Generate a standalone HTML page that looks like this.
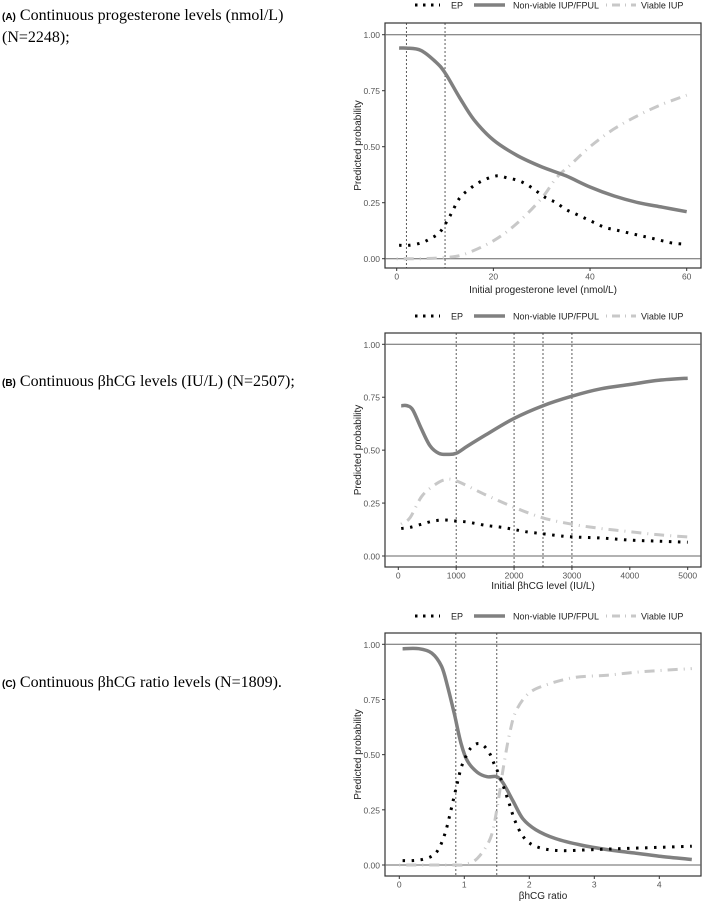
<!DOCTYPE html>
<html><head><meta charset="utf-8"><style>
body{margin:0;background:#fff;width:709px;height:903px;overflow:hidden;position:relative;font-family:"Liberation Sans",sans-serif}
.cap{position:absolute;left:2px;font-family:"Liberation Serif",serif;font-size:16px;color:#000;line-height:20px}
.cap b{font-family:"Liberation Sans",sans-serif;font-size:10px}
svg{position:absolute;left:0;top:0}
</style></head><body>
<div class="cap" style="top:6px"><b>(A)</b> Continuous progesterone levels (nmol/L)<br>(N=2248);</div>
<div class="cap" style="top:372px"><b>(B)</b> Continuous βhCG levels (IU/L) (N=2507);</div>
<div class="cap" style="top:673px"><b>(C)</b> Continuous βhCG ratio levels (N=1809).</div>
<svg id="chart" width="709" height="903"></svg>
<script>
// Panel A data
const aNvX=[0.5,2,5,8,10,13,16,20,25,30,35,40,45,50,55,60];
const aNvY=[0.94,0.94,0.93,0.88,0.83,0.72,0.62,0.53,0.46,0.41,0.37,0.32,0.28,0.25,0.23,0.21];
const aEpX=[0.5,2.5,5,7,9,11,13,15,17,19,21,23,25,27,29,31,33,35,37,39,41,43,45,47,49,51,53,55,57,59.5];
const aEpY=[0.06,0.06,0.07,0.09,0.12,0.19,0.27,0.31,0.34,0.36,0.37,0.36,0.35,0.33,0.30,0.27,0.25,0.22,0.20,0.18,0.16,0.14,0.13,0.12,0.11,0.10,0.09,0.08,0.07,0.065];
const aViX=[0,5,10,14,20,25,30,33,36,40,45,50,55,60];
const aViY=[0,0,0.005,0.02,0.08,0.16,0.27,0.36,0.42,0.50,0.58,0.64,0.69,0.73];
const aVlines=[2,10];
const aTicks=[0,20,40,60];
// Panel B data
const bNvX=[50,150,250,400,550,700,850,1000,1200,1500,2000,2500,3000,3500,4000,4500,5000];
const bNvY=[0.71,0.71,0.69,0.60,0.52,0.485,0.48,0.485,0.52,0.57,0.65,0.71,0.755,0.79,0.81,0.83,0.84];
const bViX=[50,200,400,600,800,1000,1500,2000,2500,3000,3500,4000,4500,5000];
const bViY=[0.15,0.18,0.28,0.33,0.36,0.355,0.29,0.23,0.18,0.15,0.13,0.115,0.10,0.09];
const bEpX=[50,200,400,600,800,1000,1200,1500,1800,2000,2200,2500,2800,3000,3500,4000,4500,5000];
const bEpY=[0.13,0.135,0.15,0.165,0.17,0.165,0.16,0.145,0.135,0.125,0.115,0.105,0.095,0.09,0.085,0.075,0.07,0.065];
const bVlines=[1000,2000,2500,3000];
const bTicks=[0,1000,2000,3000,4000,5000];
// Panel C data
const cNvX=[0.05,0.3,0.5,0.65,0.75,0.85,0.95,1.05,1.2,1.35,1.5,1.6,1.75,1.9,2.1,2.4,2.8,3.2,3.6,4,4.5];
const cNvY=[0.98,0.98,0.96,0.9,0.80,0.68,0.55,0.47,0.42,0.40,0.40,0.37,0.29,0.21,0.16,0.12,0.09,0.07,0.055,0.04,0.025];
const cEpX=[0.05,0.2,0.35,0.5,0.6,0.7,0.78,0.85,0.9,0.95,1.02,1.1,1.2,1.3,1.4,1.47,1.55,1.62,1.7,1.78,1.88,2,2.2,2.5,3,3.5,4,4.5];
const cEpY=[0.02,0.02,0.025,0.04,0.07,0.14,0.23,0.32,0.38,0.44,0.49,0.53,0.55,0.54,0.50,0.45,0.40,0.34,0.27,0.20,0.14,0.10,0.075,0.065,0.07,0.075,0.08,0.085];
const cViX=[0,0.8,1,1.2,1.4,1.5,1.6,1.7,1.8,2,2.3,2.7,3.2,3.7,4.5];
const cViY=[0,0,0.002,0.03,0.12,0.25,0.44,0.60,0.70,0.78,0.82,0.85,0.86,0.875,0.89];
const cVlines=[0.87,1.5];
const cTicks=[0,1,2,3,4];
const yTicks=[0,0.25,0.5,0.75,1];
const yLabels=["0.00","0.25","0.50","0.75","1.00"];

const svg=document.getElementById('chart');
const NS='http://www.w3.org/2000/svg';
function mk(tag,attrs,parent){const e=document.createElementNS(NS,tag);for(const k in attrs)e.setAttribute(k,attrs[k]);(parent||svg).appendChild(e);return e;}
function smooth(P){
  let d='M'+P[0][0].toFixed(1)+','+P[0][1].toFixed(1);
  for(let i=0;i<P.length-1;i++){
    const p0=P[i-1]||P[i],p1=P[i],p2=P[i+1],p3=P[i+2]||p2;
    const c1=[p1[0]+(p2[0]-p0[0])/6,p1[1]+(p2[1]-p0[1])/6];
    const c2=[p2[0]-(p3[0]-p1[0])/6,p2[1]-(p3[1]-p1[1])/6];
    d+=` C${c1[0].toFixed(1)},${c1[1].toFixed(1)} ${c2[0].toFixed(1)},${c2[1].toFixed(1)} ${p2[0].toFixed(1)},${p2[1].toFixed(1)}`;
  }
  return d;
}
function panel(p){
  const g=mk('g',{});
  
  
  const sx=v=>p.x0+(v-p.xmin)/(p.xmax-p.xmin)*(p.x1-p.x0);
  const sy=v=>p.y0+(p.y1-p.y0)*v;
  const lg=mk('g',{},g);
  
  
  const ly=p.ly;
  mk('line',{x1:415,y1:ly,x2:440,y2:ly,stroke:'#000','stroke-width':3,'stroke-dasharray':'2.5 5.5'},lg);
  mk('text',{x:451,y:ly+3.5,'font-size':9,fill:'#222'},lg).textContent='EP';
  mk('line',{x1:474,y1:ly,x2:505,y2:ly,stroke:'#808080','stroke-width':3.5},lg);
  mk('text',{x:513,y:ly+3.5,'font-size':9,fill:'#222'},lg).textContent='Non-viable IUP/FPUL';
  mk('line',{x1:606,y1:ly,x2:636,y2:ly,stroke:'#c8c8c8','stroke-width':3,'stroke-dasharray':'1 5 8 5'},lg);
  mk('text',{x:641,y:ly+3.5,'font-size':9,fill:'#222'},lg).textContent='Viable IUP';
  const fr=mk('rect',{x:385,y:p.bt,width:316,height:p.bb-p.bt,fill:'none',stroke:'#333','stroke-width':1.2},g);
  
  
  [0,1].forEach(v=>mk('line',{x1:385,x2:701,y1:sy(v),y2:sy(v),stroke:'#666','stroke-width':1},g));
  yTicks.forEach((v,i)=>{
    mk('line',{x1:382,x2:385,y1:sy(v),y2:sy(v),stroke:'#333'},g);
    const t=mk('text',{x:380,y:sy(v)+3.5,'font-size':8.5,fill:'#555','text-anchor':'end'},g);
    t.textContent=yLabels[i];
    
    
  });
  p.ticks.forEach(v=>{
    mk('line',{x1:sx(v),x2:sx(v),y1:p.bb,y2:p.bb+3,stroke:'#333'},g);
    const t=mk('text',{x:sx(v),y:p.bb+11.5,'font-size':8.5,fill:'#555','text-anchor':'middle'},g);
    t.textContent=v;
    
    
  });
  const yl=mk('text',{x:0,y:0,'font-size':10,fill:'#222','text-anchor':'middle',transform:`translate(361,${(p.bt+p.bb)/2}) rotate(-90)`},g);
  yl.textContent='Predicted probability';
  
  
  const xl=mk('text',{x:543,y:p.xly,'font-size':10,fill:'#222','text-anchor':'middle'},g);
  xl.textContent=p.xlab;
  
  
  p.vl.forEach(v=>{
    const l=mk('line',{x1:sx(v),x2:sx(v),y1:p.bt,y2:p.bb,stroke:'#333','stroke-width':0.8,'stroke-dasharray':'2 2'},g);
    
    
  });
  const pts=(X,Y)=>X.map((x,i)=>[sx(x),sy(Y[i])]);
  const vi=mk('path',{d:smooth(pts(p.viX,p.viY)),fill:'none',stroke:'#c8c8c8','stroke-width':3,'stroke-dasharray':'1 6 10 6'},g);
  
  
  const nv=mk('path',{d:smooth(pts(p.nvX,p.nvY)),fill:'none',stroke:'#808080','stroke-width':3.5,'stroke-linejoin':'round'},g);
  
  
  const ep=mk('path',{d:smooth(pts(p.epX,p.epY)),fill:'none',stroke:'#000','stroke-width':3,'stroke-dasharray':'2.5 6.5'},g);
  
  
}
panel({id:'a',xmin:0,xmax:60,x0:396.7,x1:686.7,y0:258.7,y1:34.7,bt:23,bb:268,ly:5,xly:293,xlab:'Initial progesterone level (nmol/L)',ticks:aTicks,vl:aVlines,nvX:aNvX,nvY:aNvY,epX:aEpX,epY:aEpY,viX:aViX,viY:aViY});
panel({id:'b',xmin:0,xmax:5000,x0:398.3,x1:687.7,y0:556,y1:344.3,bt:333,bb:567,ly:316,xly:589,xlab:'Initial  βhCG level (IU/L)',ticks:bTicks,vl:bVlines,nvX:bNvX,nvY:bNvY,epX:bEpX,epY:bEpY,viX:bViX,viY:bViY});
panel({id:'c',xmin:0,xmax:4,x0:399.3,x1:659.3,y0:865,y1:644.3,bt:633,bb:876,ly:616,xly:899,xlab:'βhCG ratio',ticks:cTicks,vl:cVlines,nvX:cNvX,nvY:cNvY,epX:cEpX,epY:cEpY,viX:cViX,viY:cViY});
</script>
</body></html>
